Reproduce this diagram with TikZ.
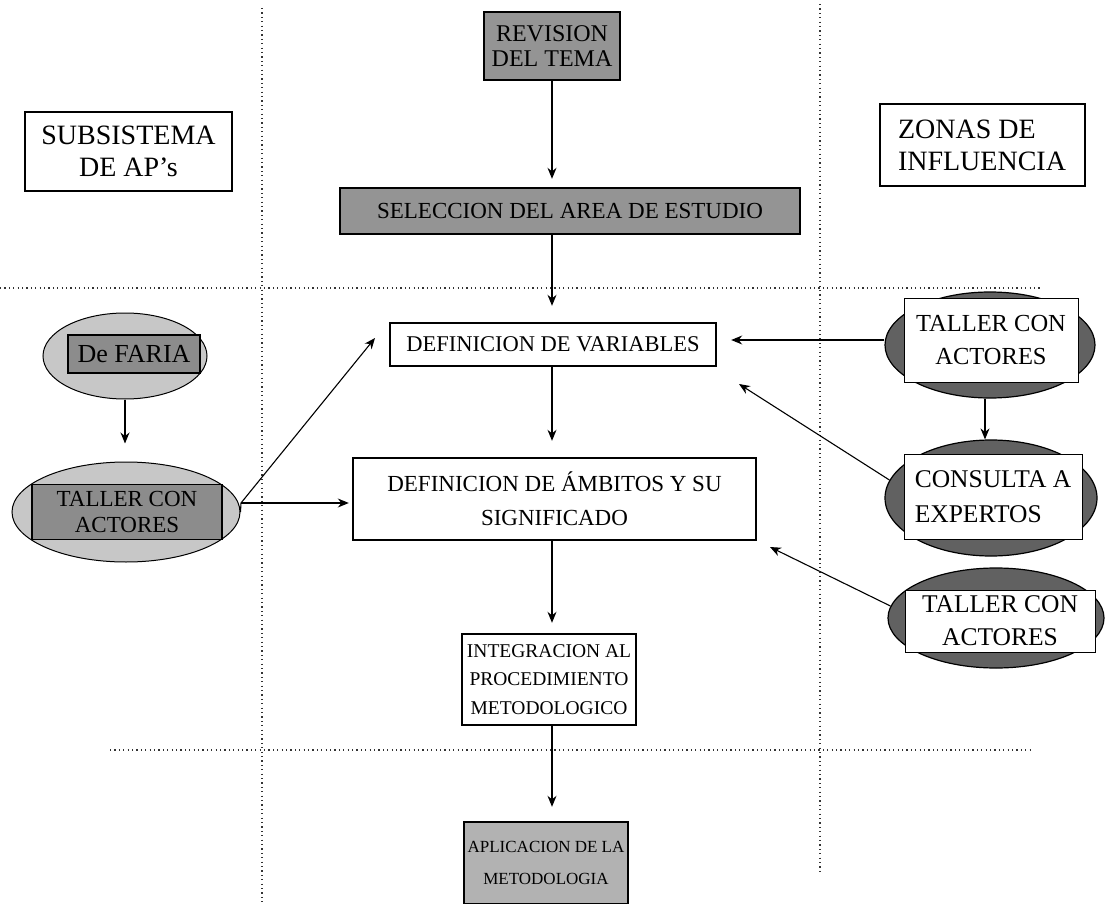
\documentclass[tikz,border=0pt]{standalone}
\usepackage{fontspec}
\setmainfont{Liberation Serif}
\usetikzlibrary{arrows.meta,shapes.geometric,calc}
\newcommand{\fs}[2]{\fontsize{#1}{#2}\selectfont}
\begin{document}
\begin{tikzpicture}[x=1pt,y=-1pt,
  plainbox/.style={draw=black,line width=2.4pt,fill=white,inner sep=0pt,align=center,rectangle},
  shadebox/.style={draw=black,line width=2.4pt,fill=black!42,inner sep=0pt,align=center,rectangle},
  lightell/.style={ellipse,draw=black,line width=1pt,fill=black!22,inner sep=0pt},
  darkell/.style={ellipse,draw=black,line width=1.2pt,fill=black!62,inner sep=0pt},
  innerdark/.style={draw=black,line width=1.6pt,fill=black!45,inner sep=0pt,align=center,rectangle},
  innerwhite/.style={draw=black,line width=1pt,fill=white,inner sep=0pt,align=center,rectangle},
  arr/.style={-{Stealth[length=11pt,width=9pt]},line width=1.1pt},
  sep/.style={line width=1.1pt,dash pattern=on 1.2pt off 3.2pt,black!80}]
\useasboundingbox (0,0) rectangle (1108,904);
% separators
\draw[sep] (262,8) -- (262,904);
\draw[sep] (820,4) -- (820,872);
\draw[sep] (0,288) -- (1040,288);
\draw[sep] (110,750) -- (1032,750);
% central column
\node[shadebox,minimum width=136,minimum height=68,font=\fs{24}{25}] (rev) at (552,46) {REVISION\\DEL TEMA};
\node[shadebox,minimum width=460,minimum height=46,font=\fs{23}{25}] (sel) at (570,211) {SELECCION DEL AREA DE ESTUDIO};
\node[plainbox,minimum width=326,minimum height=43,font=\fs{22.5}{27}] (var) at (553,344.5) {DEFINICION DE VARIABLES};
\node[plainbox,minimum width=403,minimum height=82,font=\fs{23}{34}] (amb) at (554.5,499) {DEFINICION DE ÁMBITOS Y SU\\SIGNIFICADO};
\node[plainbox,minimum width=174,minimum height=91,font=\fs{19.5}{28.5}] (int) at (549,679.5) {INTEGRACION AL\\PROCEDIMIENTO\\METODOLOGICO};
\node[shadebox,fill=black!30,minimum width=164,minimum height=82,font=\fs{17}{32}] (apl) at (546,863) {APLICACION DE LA\\METODOLOGIA};
% headers
\node[plainbox,line width=2pt,minimum width=207,minimum height=79,font=\fs{28}{32}] (sub) at (128.5,151.5) {SUBSISTEMA\\DE AP’s};
\node[plainbox,line width=2pt,minimum width=205,minimum height=82,font=\fs{28}{32},align=left] (zon) at (982,145) {ZONAS DE\\INFLUENCIA};
% left column
\node[lightell,minimum width=164,minimum height=86] (farE) at (125,356) {};
\node[innerdark,minimum width=132,minimum height=38,font=\fs{26}{27}] (far) at (134,354) {De FARIA};
\node[lightell,minimum width=228,minimum height=100] (ltE) at (126,512) {};
\node[innerdark,minimum width=190,minimum height=55,font=\fs{23}{26}] (lt) at (127,512) {TALLER CON\\ACTORES};
% right column
\node[darkell,minimum width=210,minimum height=106] (rtE) at (990,345) {};
\node[innerwhite,minimum width=174,minimum height=84,font=\fs{24.5}{33}] (rt) at (991,340) {TALLER CON\\ACTORES};
\node[darkell,minimum width=212,minimum height=116] (conE) at (991,498) {};
\node[innerwhite,minimum width=178,minimum height=85,font=\fs{25.5}{35},align=left] (con) at (993,497) {CONSULTA A\\EXPERTOS};
\node[darkell,minimum width=216,minimum height=100] (rbE) at (996,618) {};
\node[innerwhite,minimum width=190,minimum height=62,font=\fs{25.5}{33}] (rb) at (1000,621) {TALLER CON\\ACTORES};
% free ends
\coordinate (ltp) at (241,503);
\coordinate (varL) at (375,338);
\coordinate (varR) at (739,384);
\coordinate (ambR) at (770,547);
% arrows
\draw[arr] (rev.south) -- ($(rev.south |- sel.north)+(0,-8)$);
\draw[arr] (rev.south |- sel.south) -- ($(rev.south |- var.north)+(0,-16)$);
\draw[arr] (var.south -| rev.south) -- ($(rev.south |- amb.north)+(0,-16)$);
\draw[arr] (amb.south -| rev.south) -- ($(rev.south |- int.north)+(0,-10)$);
\draw[arr] (int.south -| rev.south) -- ($(rev.south |- apl.north)+(0,-14)$);
\draw[arr] (farE.south) -- ($(farE.south |- ltE.north)+(0,-18)$);
\draw[line width=1.1pt] (ltE.east) -- (ltp);
\draw[arr] (ltp) -- (varL);
\draw[arr] (ltp) -- ($(amb.west |- ltp)+(-3,0)$);
\draw[arr] (rtE.west |- rt.west) -- ($(var.east |- rt.west)+(14,0)$);
\draw[arr] ($(rtE.south)+(-5,0)$) -- ($(conE.north)+(-6,0)$);
\draw[arr] ($(conE.west)+(5,-18)$) -- (varR);
\draw[arr] ($(rbE.west)+(3,-12)$) -- (ambR);
\end{tikzpicture}
\end{document}
